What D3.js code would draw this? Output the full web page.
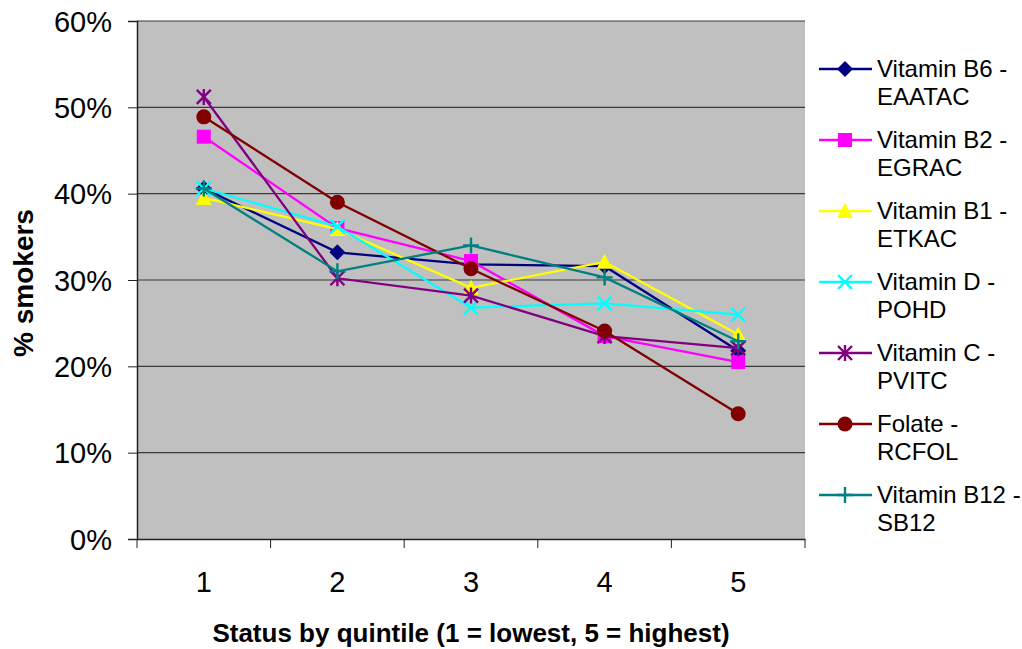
<!DOCTYPE html>
<html><head><meta charset="utf-8">
<script src="https://cdn.jsdelivr.net/npm/d3@7"></script>
<style>body{margin:0;background:#fff;} svg{display:block;font-family:"Liberation Sans",Arial,sans-serif;}</style>
</head><body>
<svg id="c" width="1022" height="649"></svg>
<script>
const categories = [1, 2, 3, 4, 5];
const yTicks = [0, 0.1, 0.2, 0.3, 0.4, 0.5, 0.6];
const seriesNames = ["Vitamin B6 - EAATAC", "Vitamin B2 - EGRAC", "Vitamin B1 - ETKAC", "Vitamin D - POHD", "Vitamin C - PVITC", "Folate - RCFOL", "Vitamin B12 - SB12"];
const legendLine1 = ["Vitamin B6 -", "Vitamin B2 -", "Vitamin B1 -", "Vitamin D -", "Vitamin C -", "Folate -", "Vitamin B12 -"];
const legendLine2 = ["EAATAC", "EGRAC", "ETKAC", "POHD", "PVITC", "RCFOL", "SB12"];
const vitB6  = [0.406, 0.332, 0.318, 0.316, 0.218];
const vitB2  = [0.466, 0.360, 0.322, 0.235, 0.205];
const vitB1  = [0.395, 0.359, 0.291, 0.321, 0.237];
const vitD   = [0.406, 0.362, 0.268, 0.273, 0.260];
const vitC   = [0.512, 0.302, 0.282, 0.235, 0.221];
const folate = [0.489, 0.390, 0.313, 0.241, 0.145];
const vitB12 = [0.406, 0.310, 0.340, 0.303, 0.229];
const colors = ["#000080", "#ff00ff", "#ffff00", "#00ffff", "#800080", "#800000", "#008080"];
const markers = ["diamond", "square", "triangle", "x", "star", "circle", "plus"];
const allSeries = [vitB6, vitB2, vitB1, vitD, vitC, folate, vitB12];

const svg = d3.select("#c");
const L = 137, R = 805, T = 21, B = 539;
const x = d3.scaleBand().domain(categories).range([L, R]);
const y = d3.scaleLinear().domain([0, 0.6]).range([B, T]);
const FONT = "Liberation Sans, Arial, sans-serif";

svg.append("rect").attr("x", L).attr("y", T).attr("width", R - L).attr("height", B - T).attr("fill", "#c0c0c0");

// gridlines
svg.append("g").selectAll("line").data(yTicks.filter(d => d > 0)).join("line")
  .attr("x1", L).attr("x2", R).attr("y1", d => y(d)).attr("y2", d => y(d))
  .attr("stroke", "#3a3a3a").attr("stroke-width", 1.2);

// y axis
const yAxis = svg.append("g").attr("transform", `translate(${L},0)`)
  .call(d3.axisLeft(y).tickValues(yTicks).tickFormat(d3.format(".0%")).tickSize(9).tickPadding(16));
yAxis.select(".domain").attr("stroke", "#222").attr("stroke-width", 1.5);
yAxis.selectAll(".tick line").attr("stroke", "#222");
yAxis.selectAll("text").attr("font-size", 29).attr("fill", "#000").attr("font-family", FONT).attr("dy", "0.35em");

// x axis
const xAxis = svg.append("g").attr("transform", `translate(0,${B})`)
  .call(d3.axisBottom(x).tickSize(0));
xAxis.select(".domain").attr("stroke", "#222").attr("stroke-width", 1.5);
xAxis.selectAll("text").attr("font-size", 29).attr("fill", "#000").attr("font-family", FONT).attr("y", 53).attr("dy", "0");
const bounds = categories.map(c => x(c)).concat([R]);
svg.append("g").selectAll("line").data(bounds).join("line")
  .attr("x1", d => d).attr("x2", d => d).attr("y1", B).attr("y2", B + 9)
  .attr("stroke", "#222").attr("stroke-width", 1);

// axis titles
svg.append("text").attr("transform", `translate(33,${(T + B) / 2 + 3}) rotate(-90)`)
  .attr("text-anchor", "middle").attr("font-size", 28).attr("font-weight", "bold").text("% smokers");
svg.append("text").attr("x", (L + R) / 2).attr("y", 642).attr("text-anchor", "middle")
  .attr("font-size", 26).attr("font-weight", "bold").text("Status by quintile (1 = lowest, 5 = highest)");

const cx = c => x(c) + x.bandwidth() / 2;
const line = d3.line().x((d, i) => cx(categories[i])).y(d => y(d));

function drawMarker(g, type, color, px, py) {
  const s = 7;
  if (type === "diamond") g.append("path").attr("d", `M${px},${py - s - 1}L${px + s + 1},${py}L${px},${py + s + 1}L${px - s - 1},${py}Z`).attr("fill", color);
  else if (type === "square") g.append("rect").attr("x", px - s).attr("y", py - s).attr("width", 2 * s).attr("height", 2 * s).attr("fill", color);
  else if (type === "triangle") g.append("path").attr("d", `M${px},${py - s - 1}L${px + s + 1},${py + s}L${px - s - 1},${py + s}Z`).attr("fill", color);
  else if (type === "circle") g.append("circle").attr("cx", px).attr("cy", py).attr("r", s + 0.5).attr("fill", color);
  else if (type === "x") g.append("path").attr("d", `M${px - s},${py - s}L${px + s},${py + s}M${px - s},${py + s}L${px + s},${py - s}`).attr("stroke", color).attr("stroke-width", 2.4).attr("fill", "none");
  else if (type === "star") g.append("path").attr("d", `M${px - s},${py - s}L${px + s},${py + s}M${px - s},${py + s}L${px + s},${py - s}M${px},${py - s - 1}L${px},${py + s + 1}`).attr("stroke", color).attr("stroke-width", 2.4).attr("fill", "none");
  else if (type === "plus") g.append("path").attr("d", `M${px - s - 1},${py}L${px + s + 1},${py}M${px},${py - s - 1}L${px},${py + s + 1}`).attr("stroke", color).attr("stroke-width", 2.4).attr("fill", "none");
}

allSeries.forEach((vals, k) => {
  const g = svg.append("g");
  g.append("path").datum(vals).attr("d", line).attr("fill", "none").attr("stroke", colors[k]).attr("stroke-width", 2.3);
  vals.forEach((v, i) => drawMarker(g, markers[k], colors[k], cx(categories[i]), y(v)));
});

// legend
const legY0 = 69, legDy = 71;
seriesNames.forEach((n, k) => {
  const ly = legY0 + k * legDy;
  const g = svg.append("g");
  g.append("line").attr("x1", 819).attr("x2", 872).attr("y1", ly).attr("y2", ly).attr("stroke", colors[k]).attr("stroke-width", 2.3);
  drawMarker(g, markers[k], colors[k], 845, ly);
  g.append("text").attr("x", 877).attr("y", ly + 8).attr("font-size", 24).text(legendLine1[k]);
  g.append("text").attr("x", 877).attr("y", ly + 36).attr("font-size", 24).text(legendLine2[k]);
});
</script>
</body></html>
